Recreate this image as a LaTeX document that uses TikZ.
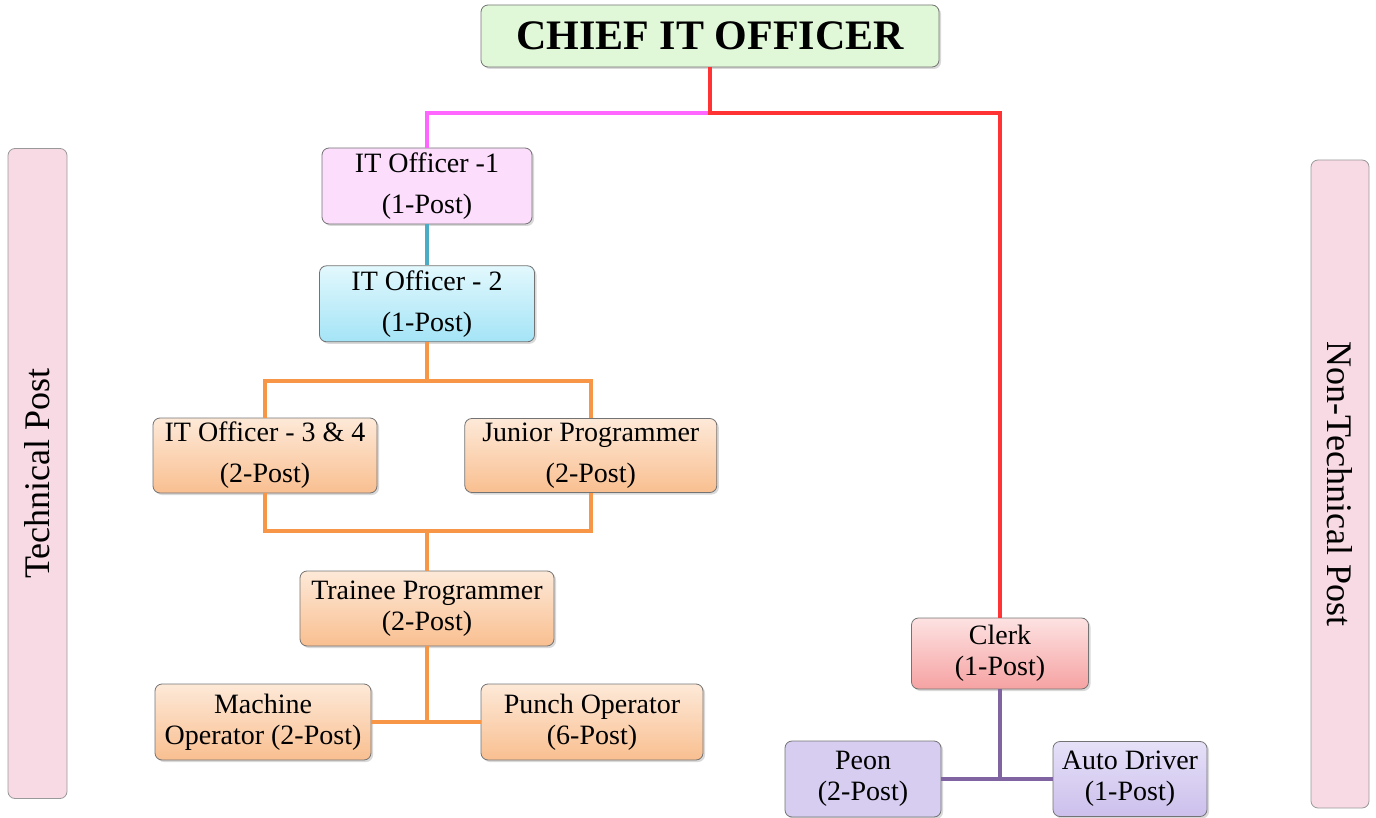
\documentclass[tikz,border=0pt]{standalone}
\usepackage{fontspec}
\setmainfont{Liberation Serif}
\usetikzlibrary{positioning, shadows}

\definecolor{chieffill}{HTML}{E0F8D8}
\definecolor{sidefill}{HTML}{F8DAE4}
\definecolor{pinkfill}{HTML}{FCDDFC}
\definecolor{cyantop}{HTML}{E2F8FD}
\definecolor{cyanbot}{HTML}{A4E4F6}
\definecolor{orangetop}{HTML}{FDE9D8}
\definecolor{orangebot}{HTML}{F9BF90}
\definecolor{redtop}{HTML}{FDE2E2}
\definecolor{redbot}{HTML}{F6A2A2}
\definecolor{lavtop}{HTML}{E6E0F8}
\definecolor{lavbot}{HTML}{CCC0EC}
\definecolor{pinkline}{HTML}{FF66FF}
\definecolor{redline}{HTML}{FF3333}
\definecolor{tealline}{HTML}{4BACC6}
\definecolor{orangeline}{HTML}{F79646}
\definecolor{purpleline}{HTML}{8064A2}

\begin{document}
\begin{tikzpicture}[x=1pt, y=-1pt,
    post/.style={rectangle, draw=black!55, line width=0.8pt, rounded corners=7pt, align=center,
                 inner sep=2pt, font=\fontsize{28}{31}\selectfont,
                 drop shadow={opacity=0.3, shadow xshift=2pt, shadow yshift=-2pt}},
    sidebar/.style={rectangle, draw=black!40, line width=0.8pt, fill=sidefill, rounded corners=7pt,
                    minimum width=59pt, minimum height=650pt, inner sep=0pt},
    sidetext/.style={font=\fontsize{36}{40}\selectfont},
    link/.style={line width=4pt}
]
    \useasboundingbox (0,0) rectangle (1376,818);

    % side panels
    \node [sidebar] (techbar) at (37.5,473.5) {};
    \node [sidetext, rotate=90] (techlbl) at (techbar.center) {Technical Post};
    \node [sidebar, minimum width=58pt, minimum height=648pt] (nontechbar) at (1340,484) {};
    \node [sidetext, rotate=-90] (nontechlbl) at (nontechbar.center) {Non-Technical Post};

    % posts
    \node [post, fill=chieffill, minimum width=458pt, minimum height=62pt,
           font=\fontsize{42}{46}\selectfont\bfseries] (chief) at (710,36) {CHIEF IT OFFICER};
    \node [post, fill=pinkfill, minimum width=210pt, minimum height=76pt] (it1) at (427,186)
          {IT Officer -1\\[10pt](1-Post)};
    \node [post, top color=cyantop, bottom color=cyanbot, minimum width=215pt,
           minimum height=76pt, below=41pt of it1] (it2) {IT Officer - 2\\[10pt](1-Post)};
    \node [post, top color=orangetop, bottom color=orangebot, minimum width=224pt,
           minimum height=75pt] (it34) at (265,455.5) {IT Officer - 3 \& 4\\[10pt](2-Post)};
    \node [post, top color=orangetop, bottom color=orangebot, minimum width=252pt,
           minimum height=74pt, right=87pt of it34] (junior) {Junior Programmer\\[10pt](2-Post)};
    \node [post, top color=orangetop, bottom color=orangebot, minimum width=254pt,
           minimum height=75pt] (trainee) at (427,608.5) {Trainee Programmer\\(2-Post)};
    \node [post, top color=orangetop, bottom color=orangebot, minimum width=216pt,
           minimum height=76pt] (machine) at (263,722) {Machine\\Operator (2-Post)};
    \node [post, top color=orangetop, bottom color=orangebot, minimum width=222pt,
           minimum height=76pt] (punch) at (592,722) {Punch Operator\\(6-Post)};
    \node [post, top color=redtop, bottom color=redbot, minimum width=177pt,
           minimum height=71pt] (clerk) at (1000,653.5) {Clerk\\(1-Post)};
    \node [post, fill=lavtop!40!lavbot, minimum width=156pt, minimum height=76pt]
          (peon) at (863,779) {Peon\\(2-Post)};
    \node [post, top color=lavtop, bottom color=lavbot, minimum width=154pt,
           minimum height=75pt] (auto) at (1130,779) {Auto Driver\\(1-Post)};

    % connectors
    \coordinate (split) at (710,113);
    \draw [link, pinkline] (split) -| (it1.north);
    \draw [link, redline] (chief.south) -- (split) -| (clerk.north);
    \draw [link, tealline] (it1.south) -- (it2.south |- it1.south) -- (it2.north);
    \draw [link, orangeline] (it2.south) -- ++(0,39) coordinate (fork);
    \draw [link, orangeline] (it34.north) |- (fork) -| (junior.north);
    \coordinate (merge) at (427,531);
    \draw [link, orangeline] (it34.south) |- (merge) -| (junior.south);
    \draw [link, orangeline] (merge) -- (trainee.north);
    \draw [link, orangeline] (trainee.south) |- (machine.east);
    \draw [link, orangeline] (trainee.south) |- (punch.west);
    \draw [link, purpleline] (clerk.south) |- (peon.east);
    \draw [link, purpleline] (clerk.south) |- (auto.west);
\end{tikzpicture}
\end{document}
